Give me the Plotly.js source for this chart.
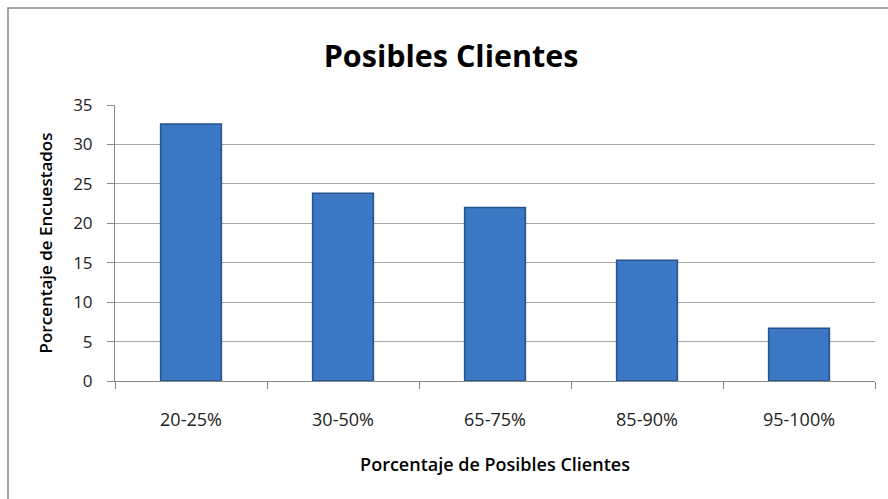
<!DOCTYPE html>
<html><head><meta charset="utf-8">
<script src="https://cdn.plot.ly/plotly-3.0.1.min.js"></script>
<style>html,body{margin:0;padding:0;background:#fff;}#chart{width:888px;height:499px;}</style>
</head><body><div id="chart"></div>
<script>
const categories = ["20-25%", "30-50%", "65-75%", "85-90%", "95-100%"];
const values = [32.6, 23.8, 22.0, 15.3, 6.7];
const yTicks = [0, 5, 10, 15, 20, 25, 30, 35];

const trace = {
  type: "bar",
  x: categories,
  y: values,
  width: 0.4,
  marker: {color: "#3c78c3", line: {color: "#23528f", width: 1.5}},
  hoverinfo: "x+y"
};

const L = 115, R = 13, T = 105, B = 118;
const pw = 888 - L - R, ph = 499 - T - B;

const layout = {
  width: 888, height: 499,
  margin: {l: L, r: R, t: T, b: B},
  paper_bgcolor: "#ffffff", plot_bgcolor: "#ffffff",
  showlegend: false,
  font: {family: "Open Sans, sans-serif", color: "#000"},
  title: {text: "<b>Posibles Clientes</b>", font: {family: "Open Sans", size: 30.5, color: "#000"},
          x: 0.508, xanchor: "center", y: 0.888, yanchor: "middle"},
  xaxis: {
    type: "category",
    showgrid: false, showline: true, linecolor: "#888", linewidth: 1,
    ticks: "outside", ticklen: 7, tickcolor: "#888", tickson: "boundaries",
    ticklabelstandoff: 22,
    tickfont: {family: "Open Sans", size: 18, color: "#222"},
    title: {text: "Porcentaje de Posibles Clientes", font: {family: "Open Sans", size: 18, weight: 600, color: "#000"}, standoff: 28}
  },
  yaxis: {
    range: [0, 35], tickvals: yTicks, ticktext: yTicks.map(String),
    showgrid: true, gridcolor: "#a6a6a6", gridwidth: 1,
    showline: true, linecolor: "#888", linewidth: 1,
    ticks: "outside", ticklen: 7, tickcolor: "#888",
    ticklabelstandoff: 11,
    zeroline: false,
    tickfont: {family: "Open Sans", size: 17, color: "#222"},
    title: {text: "Porcentaje de Encuestados", font: {family: "Open Sans", size: 17, weight: 600, color: "#000"}, standoff: 16}
  },
  shapes: [{
    type: "rect", xref: "paper", yref: "paper",
    x0: (8 - L) / pw, x1: (900 - L) / pw,
    y0: -(510 - T - ph) / ph, y1: 1 + (T - 8) / ph,
    line: {color: "#888", width: 1.5}, fillcolor: "rgba(0,0,0,0)", layer: "below"
  }]
};

Plotly.newPlot("chart", [trace], layout, {displayModeBar: false, staticPlot: true});
</script></body></html>
